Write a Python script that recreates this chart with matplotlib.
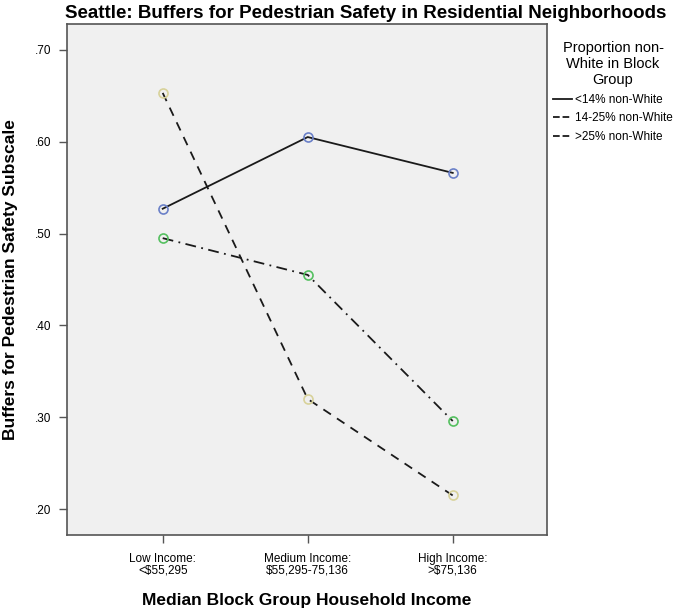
import matplotlib
matplotlib.use("Agg")
import matplotlib.pyplot as plt

plt.rcParams["font.family"] = ["Liberation Sans", "DejaVu Sans"]

categories = ["Low Income:\n<$55,295", "Medium Income:\n$55,295-75,136", "High Income:\n>$75,136"]
groups = ["<14% non-White", "14-25% non-White", ">25% non-White"]
low_share = [0.527, 0.605, 0.566]
mid_share = [0.495, 0.455, 0.296]
high_share = [0.653, 0.320, 0.215]
yticks = [0.20, 0.30, 0.40, 0.50, 0.60, 0.70]

fig = plt.figure(figsize=(6.86, 6.15), dpi=100)
ax = fig.add_axes([67 / 686, 1 - 535 / 615, 480 / 686, 511 / 615])
ax.set_facecolor("#f0f0f0")

x = list(range(len(categories)))
styles = [("-", "#6a80c8"), ((0, (6, 3, 1, 3)), "#55c060"), ((0, (5, 4)), "#d8d29a")]
series = [low_share, mid_share, high_share]
handles = []
for vals, (ls, mc), name in zip(series, styles, groups):
    h, = ax.plot(x, vals, color="#1a1a1a", lw=1.3, ls=ls, marker="o", ms=6.5,
                 mfc="none", mec=mc, mew=1.2, label=name)
    handles.append(h)

ax.set_xlim(-0.66, 2.65)
ax.set_ylim(0.172, 0.728)
ax.set_yticks(yticks)
ax.set_yticklabels(["." + f"{v:.2f}".split(".")[1] for v in yticks], fontsize=8.5)
ax.set_xticks(x)
ax.set_xticklabels(categories, fontsize=8.5, linespacing=0.9)
ax.tick_params(length=6, width=1, color="#555555", pad=5)
ax.tick_params(axis="x", pad=7)
for s in ax.spines.values():
    s.set_color("#555555")
    s.set_linewidth(1.2)

ax.set_xlabel("Median Block Group Household Income", fontsize=12.5, fontweight="bold")
ax.xaxis.set_label_coords(0.5, -(601 - 535) / 511, transform=ax.transAxes)
ax.xaxis.label.set_va("center")
ax.set_ylabel("Buffers for Pedestrian Safety Subscale", fontsize=12.5, fontweight="bold")
ax.yaxis.set_label_coords(-(67 - 11) / 480, 0.5)
ax.yaxis.label.set_va("center")
fig.text(366 / 686, 1 - 13 / 615, "Seattle: Buffers for Pedestrian Safety in Residential Neighborhoods",
         fontsize=13.5, fontweight="bold", ha="center", va="center")

leg = fig.legend(handles=[plt.Line2D([], [], color="#1a1a1a", lw=1.3, ls=h.get_linestyle()) for h in handles],
                 labels=groups, loc="upper left", bbox_to_anchor=(553 / 686, 1 - 41 / 615),
                 frameon=False, fontsize=8.5, handlelength=1.6, handletextpad=0.3,
                 labelspacing=0.55, title="Proportion non-\nWhite in Block\nGroup",
                 title_fontsize=10.5, borderaxespad=0, borderpad=0)
leg.get_title().set_multialignment("center")

fig.savefig("out.png", dpi=100)
